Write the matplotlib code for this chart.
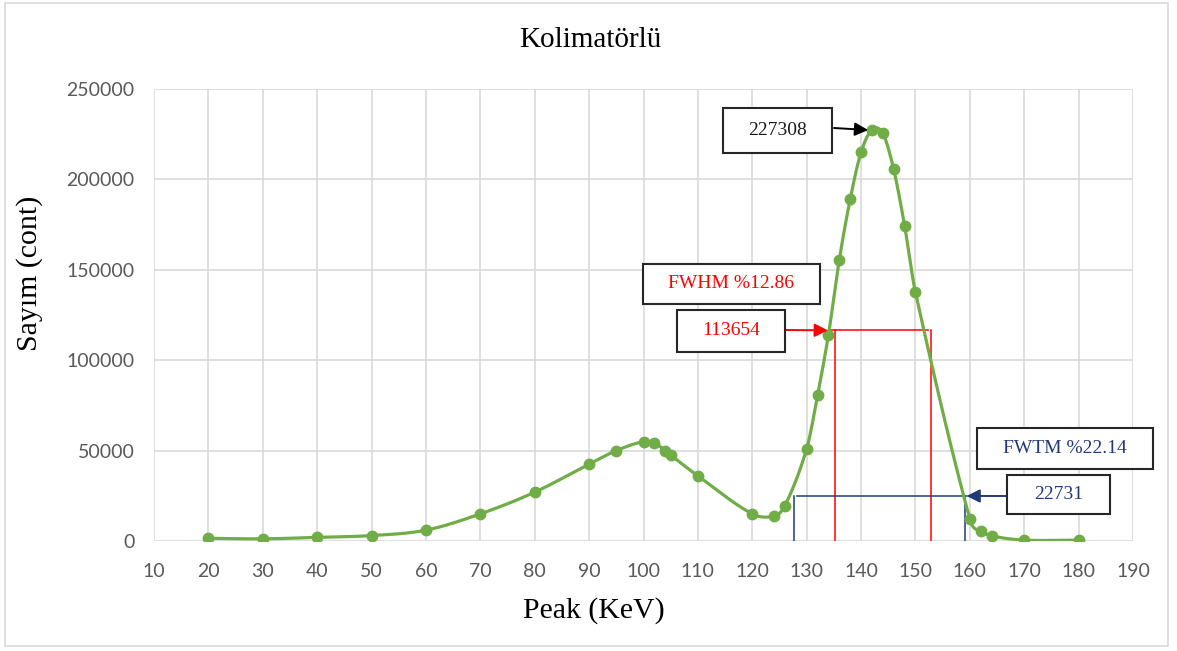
import numpy as np
import matplotlib.pyplot as plt
from matplotlib.patches import Rectangle

# data
peak_kev = [20, 30, 40, 50, 60, 70, 80, 90, 95, 100, 102, 104, 105, 110, 120, 124, 126,
            130, 132, 134, 136, 138, 140, 142, 144, 146, 148, 150, 160, 162, 164, 170, 180]
counts = [1500, 1200, 2000, 3000, 6000, 15000, 27000, 42500, 50000, 55000, 54200, 50000,
          47500, 36000, 15000, 13800, 19500, 51000, 80500, 114000, 155500, 189000, 215000,
          227308, 225500, 205500, 174500, 137500, 12200, 5500, 2800, 500, 500]

peak_label = '227308'
fwhm_label = 'FWHM %12.86'
half_label = '113654'
fwtm_label = 'FWTM %22.14'
tenth_label = '22731'

# hand drawn marker lines (as seen in the picture)
fwhm_y = 116500
fwhm_h = [134.3, 152.3]
fwhm_v = [135.2, 152.8]
fwtm_y = 24900
fwtm_h = [128.2, 159.4]
fwtm_v = [127.6, 159.1]

xticks = list(range(10, 191, 10))
yticks = list(range(0, 250001, 50000))

GREEN = '#70AD47'
RED = '#FF0000'
NAVY = '#1F3A78'
GRID = '#D9D9D9'
SERIF = 'Liberation Serif'


def smooth(x, y, n=24):
    # cubic hermite with x as parameter, close to excel's smoothed line
    x = np.asarray(x, float)
    y = np.asarray(y, float)
    m = np.zeros_like(y)
    m[1:-1] = (y[2:] - y[:-2]) / (x[2:] - x[:-2])
    m[0] = (y[1] - y[0]) / (x[1] - x[0])
    m[-1] = (y[-1] - y[-2]) / (x[-1] - x[-2])
    xs, ys = [], []
    t = np.linspace(0, 1, n, endpoint=False)
    for i in range(len(x) - 1):
        h = x[i + 1] - x[i]
        h00 = 2 * t ** 3 - 3 * t ** 2 + 1
        h10 = t ** 3 - 2 * t ** 2 + t
        h01 = -2 * t ** 3 + 3 * t ** 2
        h11 = t ** 3 - t ** 2
        xs.extend(x[i] + t * h)
        ys.extend(h00 * y[i] + h10 * h * m[i] + h01 * y[i + 1] + h11 * h * m[i + 1])
    xs.append(x[-1])
    ys.append(y[-1])
    return np.array(xs), np.array(ys)


W, H = 1177, 651
fig = plt.figure(figsize=(W / 100, H / 100), dpi=100)
ax = fig.add_axes([154 / W, 1 - 541 / H, (1133 - 154) / W, (541 - 89) / H])

# outer chart border
fig.patches.append(Rectangle((5 / W, 1 - 646 / H), 1163 / W, 643 / H, transform=fig.transFigure,
                             fill=False, edgecolor=GRID, lw=1.2))

sx, sy = smooth(peak_kev, counts)
ax.plot(sx, sy, color=GREEN, lw=2.3, zorder=3)
ax.plot(peak_kev, counts, 'o', color=GREEN, ms=7.5, zorder=4)

# FWHM / FWTM lines
ax.plot(fwhm_h, [fwhm_y, fwhm_y], color=RED, lw=1.1, zorder=2)
for v in fwhm_v:
    ax.plot([v, v], [0, fwhm_y], color=RED, lw=1.1, zorder=2)
ax.plot(fwtm_h, [fwtm_y, fwtm_y], color=NAVY, lw=1.1, zorder=2)
for v in fwtm_v:
    ax.plot([v, v], [0, fwtm_y], color=NAVY, lw=1.1, zorder=2)

ax.set_xlim(10, 190)
ax.set_ylim(0, 250000)
ax.set_xticks(xticks)
ax.set_yticks(yticks)
ax.grid(True, color=GRID, lw=1.2)
ax.set_axisbelow(True)
for s in ax.spines.values():
    s.set_visible(False)
ax.tick_params(length=0, labelsize=14, labelcolor='#595959', pad=14)
for lab in ax.get_xticklabels() + ax.get_yticklabels():
    lab.set_family('Lato')
ax.tick_params(axis='x', pad=16)

fig.text(590 / W, 1 - 40 / H, 'Kolimatörlü', ha='center', va='center', family=SERIF, fontsize=21)
fig.text(594 / W, 1 - 611 / H, 'Peak (KeV)', ha='center', va='center', family=SERIF, fontsize=21.5)
fig.text(30 / W, 1 - 273 / H, 'Sayım (cont)', ha='center', va='center', rotation=90,
         family=SERIF, fontsize=21.5)


def box(x0, y0, x1, y1, text, color):
    fig.patches.append(Rectangle((x0 / W, 1 - y1 / H), (x1 - x0) / W, (y1 - y0) / H,
                                 transform=fig.transFigure, facecolor='white',
                                 edgecolor='#262626', lw=1.5, zorder=5))
    fig.text((x0 + x1) / 2 / W, 1 - (y0 + y1) / 2 / H, text, ha='center', va='center',
             family=SERIF, fontsize=14, color=color, zorder=6)


def arrow(xy, tail, color):
    ax.annotate('', xy=xy, xycoords='data', xytext=(tail[0], H - tail[1]),
                textcoords='figure pixels',
                arrowprops=dict(arrowstyle='-|>', color=color, lw=1.4, mutation_scale=20,
                                shrinkA=0, shrinkB=0), zorder=6)


box(723, 108, 832, 153, peak_label, '#1a1a1a')
arrow((141.3, counts[peak_kev.index(142)]), (834, 128), 'black')
box(643, 264, 820, 304, fwhm_label, RED)
box(677, 310, 785, 352, half_label, RED)
arrow((133.9, fwhm_y), (786, 330), RED)
box(977, 428, 1153, 469, fwtm_label, NAVY)
box(1007, 475, 1110, 514, tenth_label, NAVY)
arrow((159.4, fwtm_y), (1006, 496), NAVY)

fig.savefig('out.png', dpi=100)
